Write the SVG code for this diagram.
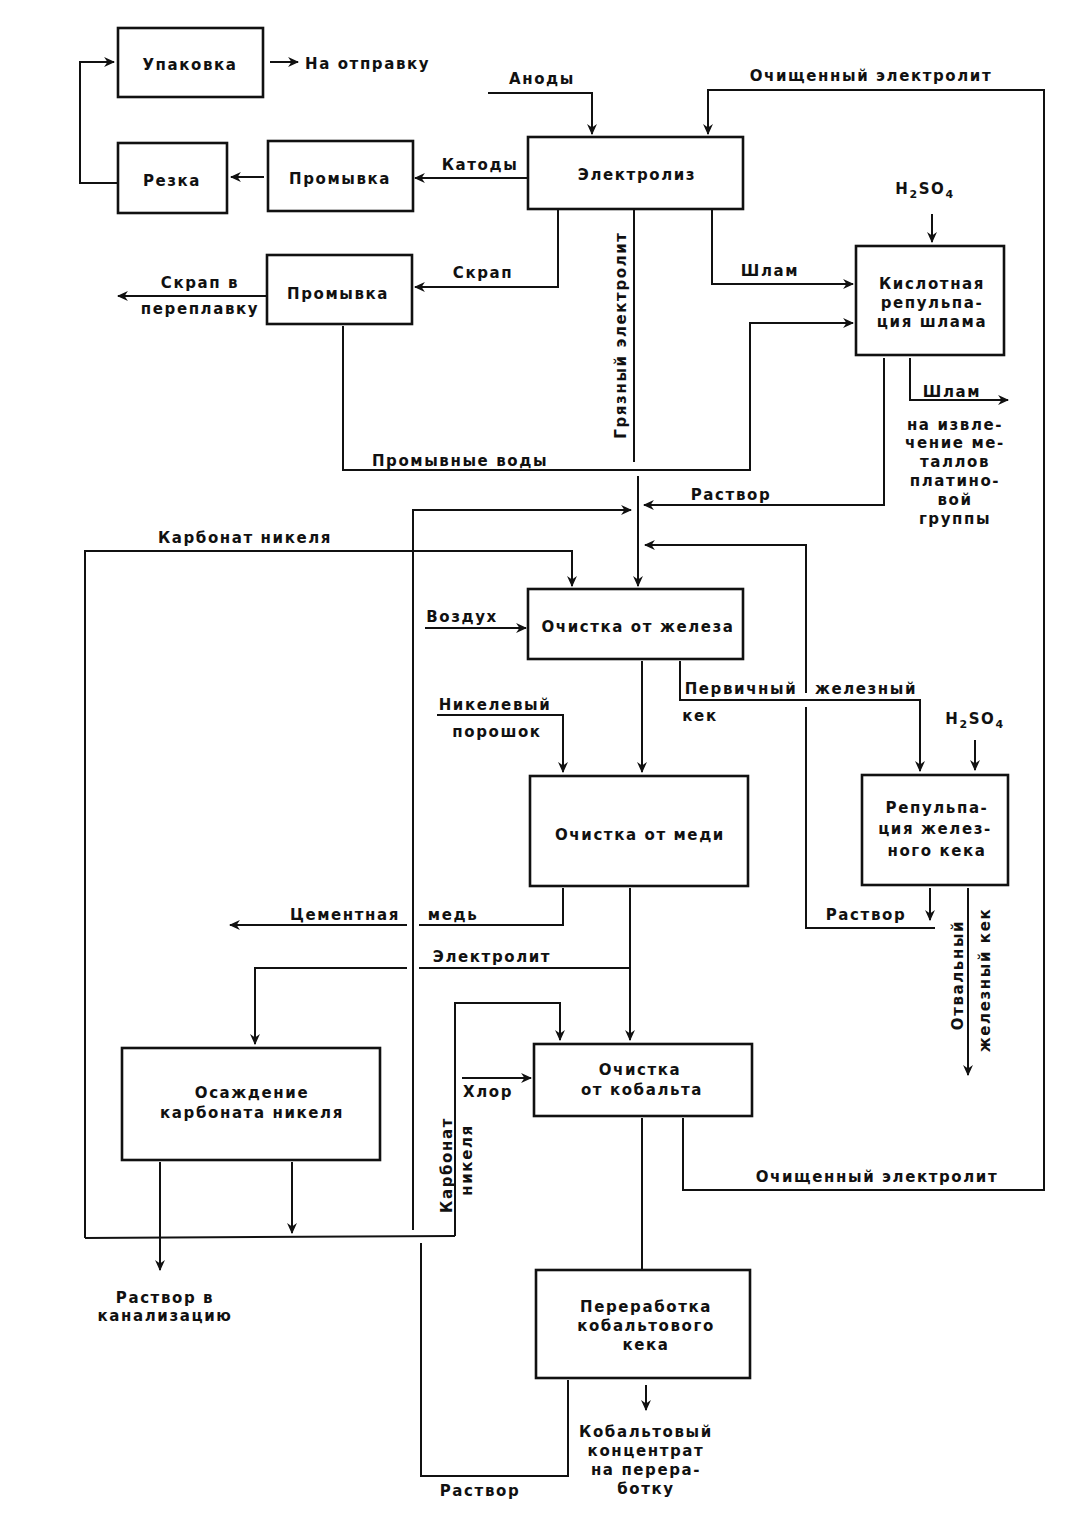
<svg xmlns="http://www.w3.org/2000/svg" width="1089" height="1515" viewBox="0 0 1089 1515">
<defs>
<marker id="ar" viewBox="0 0 10 10" refX="9" refY="5" markerWidth="11" markerHeight="11" markerUnits="userSpaceOnUse" orient="auto">
<path d="M0,0.5 L10,5 L0,9.5 L3,5 z" fill="#111"/>
</marker>
<style>
.box{fill:#fff;stroke:#111;stroke-width:2.6}
.c{fill:none;stroke:#111;stroke-width:2}
.a{fill:none;stroke:#111;stroke-width:2;marker-end:url(#ar)}
text{font-family:"DejaVu Sans","Liberation Sans",sans-serif;font-weight:bold;font-size:15px;letter-spacing:1.6px;fill:#111}
.m{text-anchor:middle}
.sub{font-size:11px}
</style>
</defs>
<rect width="1089" height="1515" fill="#fff"/>

<g id="connectors">
<path class="a" d="M118,183 L80,183 L80,62 L114,62"/>
<path class="a" d="M270,62 L298,62"/>
<path class="a" d="M264,177 L231,177"/>
<path class="a" d="M527,178 L415,178"/>
<path class="a" d="M488,93 L592,93 L592,134"/>
<path class="a" d="M683,1118 L683,1190 L1044,1190 L1044,90 L708,90 L708,134"/>
<path class="a" d="M558,210 L558,287 L415,287"/>
<path class="a" d="M266,296 L118,296"/>
<path class="c" d="M634,210 L634,462"/>
<path class="a" d="M638,476 L638,586"/>
<path class="a" d="M712,210 L712,284 L853,284"/>
<path class="a" d="M343,326 L343,470 L750,470 L750,323 L853,323"/>
<path class="a" d="M932,214 L932,242"/>
<path class="a" d="M910,358 L910,400 L1008,400"/>
<path class="a" d="M884,358 L884,505 L644,505"/>
<path class="c" d="M568,1380 L568,1476 L421,1476 L421,1243"/>
<path class="a" d="M413,1230 L413,510 L631,510"/>
<path class="a" d="M292,1162 L292,1233"/>
<path class="c" d="M85,1238 L455,1236"/>
<path class="a" d="M85,1238 L85,551 L572,551 L572,586"/>
<path class="a" d="M455,1236 L455,1003 L560,1003 L560,1040"/>
<path class="a" d="M160,1162 L160,1270"/>
<path class="a" d="M425,628 L526,628"/>
<path class="a" d="M642,661 L642,772"/>
<path class="a" d="M680,661 L680,700 L920,700 L920,771"/>
<path class="a" d="M930,888 L930,920"/>
<path class="c" d="M935,928 L806,928 L806,707"/>
<path class="a" d="M806,693 L806,545 L645,545"/>
<path class="a" d="M975,740 L975,770"/>
<path class="a" d="M968,888 L968,1075"/>
<path class="a" d="M437,715 L563,715 L563,772"/>
<path class="c" d="M563,888 L563,925 L419,925"/>
<path class="a" d="M407,925 L230,925"/>
<path class="a" d="M630,888 L630,1040"/>
<path class="c" d="M630,968 L419,968"/>
<path class="a" d="M407,968 L255,968 L255,1044"/>
<path class="a" d="M462,1078 L531,1078"/>
<path class="c" d="M642,1118 L642,1270"/>
<path class="a" d="M646,1385 L646,1410"/>
</g>

<g id="n-upakovka"><rect class="box" x="118" y="28" width="145" height="69"/><text class="m" x="190" y="70">Упаковка</text></g>
<g id="n-rezka"><rect class="box" x="118" y="143" width="109" height="70"/><text class="m" x="172" y="186">Резка</text></g>
<g id="n-promyvka1"><rect class="box" x="268" y="141" width="145" height="70"/><text class="m" x="340" y="184">Промывка</text></g>
<g id="n-elektroliz"><rect class="box" x="528" y="137" width="215" height="72"/><text class="m" x="637" y="180">Электролиз</text></g>
<g id="n-promyvka2"><rect class="box" x="267" y="255" width="145" height="69"/><text class="m" x="338" y="299">Промывка</text></g>
<g id="n-kislotnaya"><rect class="box" x="856" y="246" width="148" height="109"/><text class="m" x="932" y="289">Кислотная</text><text class="m" x="932" y="308">репульпа-</text><text class="m" x="932" y="327">ция шлама</text></g>
<g id="n-zhelezo"><rect class="box" x="528" y="589" width="215" height="70"/><text class="m" x="638" y="632">Очистка от железа</text></g>
<g id="n-med"><rect class="box" x="530" y="776" width="218" height="110"/><text class="m" x="640" y="840">Очистка от меди</text></g>
<g id="n-repulp"><rect class="box" x="862" y="775" width="146" height="110"/><text class="m" x="937" y="813">Репульпа-</text><text class="m" x="935" y="834">ция желез-</text><text class="m" x="937" y="856">ного кека</text></g>
<g id="n-osazhdenie"><rect class="box" x="122" y="1048" width="258" height="112"/><text class="m" x="252" y="1098">Осаждение</text><text class="m" x="252" y="1118">карбоната никеля</text></g>
<g id="n-kobalt"><rect class="box" x="534" y="1044" width="218" height="72"/><text class="m" x="640" y="1075">Очистка</text><text class="m" x="642" y="1095">от кобальта</text></g>
<g id="n-pererabotka"><rect class="box" x="536" y="1270" width="214" height="108"/><text class="m" x="646" y="1312">Переработка</text><text class="m" x="646" y="1331">кобальтового</text><text class="m" x="646" y="1350">кека</text></g>

<g id="labels">
<text x="305" y="69">На отправку</text>
<text class="m" x="480" y="170">Катоды</text>
<text class="m" x="542" y="84">Аноды</text>
<text class="m" x="871" y="81">Очищенный электролит</text>
<text class="m" x="925" y="194">H<tspan class="sub" dy="4">2</tspan><tspan dy="-4">SO</tspan><tspan class="sub" dy="4">4</tspan></text>
<text class="m" x="483" y="278">Скрап</text>
<text class="m" x="770" y="276">Шлам</text>
<text class="m" x="200" y="288">Скрап в</text>
<text class="m" x="200" y="314">переплавку</text>
<text class="m" transform="translate(626,335) rotate(-90)">Грязный электролит</text>
<text class="m" x="460" y="466">Промывные воды</text>
<text class="m" x="952" y="397">Шлам</text>
<text class="m" x="955" y="430">на извле-</text>
<text class="m" x="955" y="448">чение ме-</text>
<text class="m" x="955" y="467">таллов</text>
<text class="m" x="955" y="486">платино-</text>
<text class="m" x="955" y="505">вой</text>
<text class="m" x="955" y="524">группы</text>
<text class="m" x="731" y="500">Раствор</text>
<text class="m" x="245" y="543">Карбонат никеля</text>
<text class="m" x="462" y="622">Воздух</text>
<text class="m" x="741" y="694">Первичный</text>
<text class="m" x="866" y="694">железный</text>
<text class="m" x="700" y="721">кек</text>
<text class="m" x="495" y="710">Никелевый</text>
<text class="m" x="497" y="737">порошок</text>
<text class="m" x="975" y="724">H<tspan class="sub" dy="4">2</tspan><tspan dy="-4">SO</tspan><tspan class="sub" dy="4">4</tspan></text>
<text class="m" x="866" y="920">Раствор</text>
<text class="m" transform="translate(963,975) rotate(-90)">Отвальный</text>
<text class="m" transform="translate(990,980) rotate(-90)">железный кек</text>
<text class="m" x="345" y="920">Цементная</text>
<text class="m" x="453" y="920">медь</text>
<text class="m" x="492" y="962">Электролит</text>
<text class="m" x="488" y="1097">Хлор</text>
<text class="m" transform="translate(452,1165) rotate(-90)">Карбонат</text>
<text class="m" transform="translate(472,1160) rotate(-90)">никеля</text>
<text class="m" x="877" y="1182">Очищенный электролит</text>
<text class="m" x="165" y="1303">Раствор в</text>
<text class="m" x="165" y="1321">канализацию</text>
<text class="m" x="646" y="1437">Кобальтовый</text>
<text class="m" x="646" y="1456">концентрат</text>
<text class="m" x="646" y="1475">на перера-</text>
<text class="m" x="646" y="1494">ботку</text>
<text class="m" x="480" y="1496">Раствор</text>
</g>
</svg>
